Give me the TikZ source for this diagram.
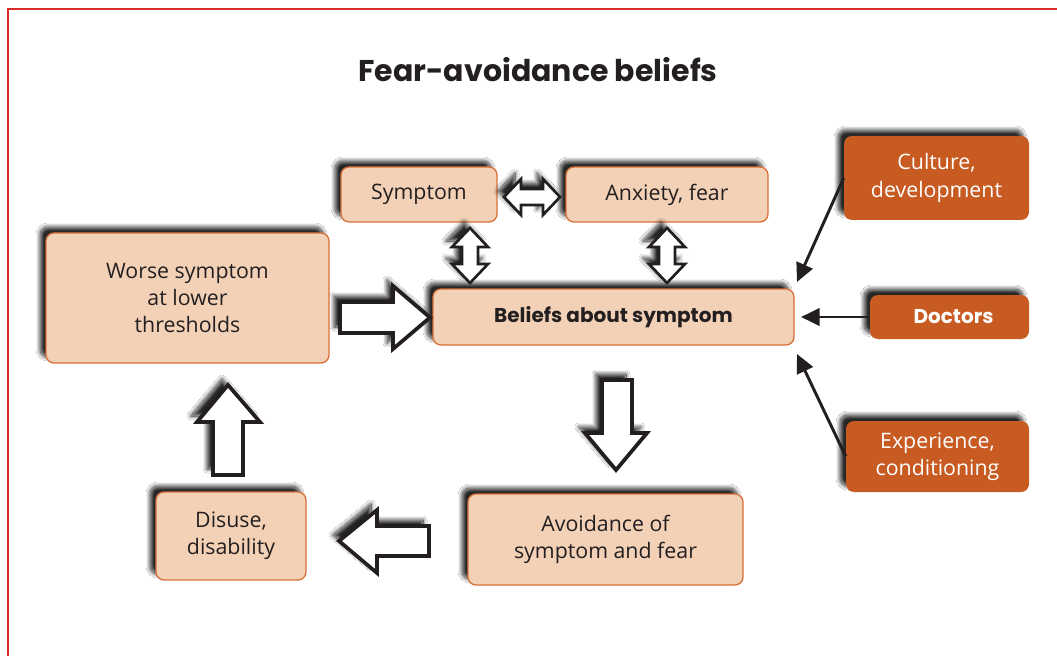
\documentclass[tikz,border=0pt]{standalone}
\usepackage{fontspec}
\setmainfont{Open Sans}
\newfontfamily\headfont{Poppins}
\usetikzlibrary{shadows.blur,arrows.meta,calc}

\definecolor{peach}{HTML}{F3D1B7}
\definecolor{peachline}{HTML}{D8703A}
\definecolor{rust}{HTML}{C85B22}
\definecolor{ink}{HTML}{231F20}
\definecolor{framered}{HTML}{DA2B2B}

\begin{document}
\begin{tikzpicture}[x=0.75pt,y=-0.75pt,
  softshadow/.style={blur shadow={shadow xshift=-4.5pt,shadow yshift=4.5pt,shadow blur radius=3pt,
    shadow blur steps=16,shadow opacity=85}},
  lightbox/.style={draw=peachline,line width=1pt,fill=peach,rounded corners=6pt,text=ink,align=center,
    font=\fontsize{16}{20.5}\selectfont,inner sep=0pt,softshadow},
  darkbox/.style={fill=rust,rounded corners=6pt,text=white,align=center,
    font=\fontsize{16}{20.5}\selectfont,inner sep=0pt,softshadow},
  boldtext/.style={font=\headfont\bfseries\fontsize{15}{18}\selectfont},
  blockarrow/.style={draw=ink,line width=2.8pt,fill=white,line join=miter,softshadow},
  twinarrow/.style={draw=ink,line width=2pt,fill=white,line join=miter,softshadow},
  thinarrow/.style={draw=ink,line width=2.2pt,-{Triangle[length=14pt,width=13pt]}},
]
\useasboundingbox (0,0) rectangle (1057,656);
\fill[white] (0,0) rectangle (1057,656);

% frame
\draw[framered,line width=2.2pt] (8,660) -- (8,9) -- (1060,9);

% title
\node[font=\headfont\bfseries\fontsize{22.5}{28}\selectfont,text=ink] (title) at (538,70) {Fear-avoidance beliefs};

% light boxes
\node[lightbox,minimum width=117pt,minimum height=41.25pt] (symptom) at (419,194.5) {Symptom};
\node[lightbox,minimum width=151.5pt,minimum height=41.25pt] (anxiety) at (667,194.5) {Anxiety, fear};
\node[lightbox,boldtext,minimum width=270.75pt,minimum height=42pt] (beliefs) at (613.5,317) {Beliefs about symptom};
\node[lightbox,minimum width=212.25pt,minimum height=97.5pt] (worse) at (187.5,298) {Worse symptom\\at lower\\thresholds};
\node[lightbox,minimum width=206.25pt,minimum height=68.25pt] (avoid) at (605.5,539.5) {Avoidance of\\symptom and fear};
\node[lightbox,minimum width=112.5pt,minimum height=66pt] (disuse) at (231,536) {Disuse,\\disability};

% dark boxes
\node[darkbox,minimum width=138.75pt,minimum height=63pt] (culture) at (936.5,178) {Culture,\\development};
\node[darkbox,boldtext,minimum width=119.25pt,minimum height=33pt] (doctors) at (949.5,317) {\hspace*{6pt}Doctors};
\node[darkbox,minimum width=137.25pt,minimum height=53.25pt] (experience) at (937.5,456.5) {Experience,\\conditioning};

% two-headed arrows between the upper boxes
\path[twinarrow] (504,197) -- (521,179) -- (521,189) -- (543,189) -- (543,179) -- (560,197)
  -- (543,215) -- (543,205) -- (521,205) -- (521,215) -- cycle;
\foreach \cx in {470,667}{
  \path[twinarrow] (\cx,228) -- (\cx+18,247) -- (\cx+8,247) -- (\cx+8,264) -- (\cx+18,264) -- (\cx,283)
    -- (\cx-18,264) -- (\cx-8,264) -- (\cx-8,247) -- (\cx-18,247) -- cycle;
}

% block arrows of the cycle
\path[blockarrow] (340,302) -- (393,302) -- (393,286) -- (430,317.5) -- (393,349) -- (393,333) -- (340,333) -- cycle;
\path[blockarrow] (602,380) -- (632,380) -- (632,433) -- (647,433) -- (616,470) -- (585,433) -- (602,433) -- cycle;
\path[blockarrow] (429,526) -- (377,526) -- (377,510) -- (339,541) -- (377,573) -- (377,556) -- (429,556) -- cycle;
\path[blockarrow] (213,475) -- (213,422) -- (197,422) -- (228,385) -- (260,422) -- (243,422) -- (243,475) -- cycle;

% influences on the beliefs
\coordinate (inTop) at (797,282);
\coordinate (inMid) at (801,317);
\coordinate (inLow) at (797,354);
\draw[thinarrow] (culture.west) -- (inTop);
\draw[thinarrow] (doctors.west) -- (inMid);
\draw[thinarrow] (experience.west) -- (inLow);
\end{tikzpicture}
\end{document}
